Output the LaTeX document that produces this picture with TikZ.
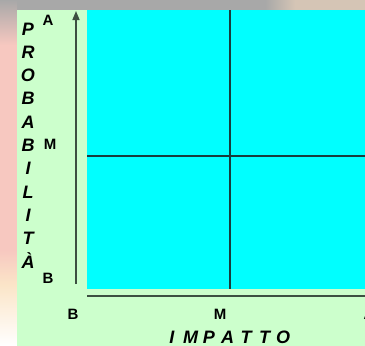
\documentclass[tikz,border=0pt]{standalone}
\usepackage{fontspec}
\setmainfont{Liberation Sans}
\usetikzlibrary{arrows.meta,positioning}
\definecolor{PanelGreen}{RGB}{204,255,204}
\definecolor{GridCyan}{RGB}{0,255,255}
\definecolor{GridLine}{RGB}{25,60,60}
\definecolor{AxisGray}{RGB}{60,80,65}
\definecolor{PhotoGray}{RGB}{168,168,168}
\definecolor{PhotoBeige}{RGB}{213,197,181}
\definecolor{PhotoPink}{RGB}{247,200,192}
\definecolor{PhotoPeach}{RGB}{251,229,200}

\begin{document}
\begin{tikzpicture}[x=1pt, y=-1pt,
	lab/.style={font=\bfseries\fontsize{15}{15}\selectfont},
	vlet/.style={font=\bfseries\itshape\fontsize{18}{18}\selectfont, anchor=base, inner sep=0pt}]
		\useasboundingbox (0,0) rectangle (365,346);
		
		% sfondo (foto)
		\fill[PhotoBeige] (0,0) rectangle (365,10);
		\fill[PhotoGray] (0,0) rectangle (265,10);
		\shade[left color=PhotoGray, right color=PhotoBeige] (265,0) rectangle (295,10);
		\shade[top color=PhotoGray, bottom color=PhotoPink] (0,0) rectangle (17,45);
		\fill[PhotoPink] (0,45) rectangle (17,250);
		\shade[top color=PhotoPink, bottom color=PhotoPeach] (0,250) rectangle (17,285);
		\shade[top color=PhotoPeach, bottom color=white] (0,285) rectangle (17,346);
		
		% pannello verde e matrice
		\fill[PanelGreen] (17,10) rectangle (365,346);
		\fill[GridCyan] (87,10) rectangle (365,289);
		
		% coordinate
		\coordinate (top) at (230,10);
		\coordinate (bot) at (230,289);
		\coordinate (left) at (87,156);
		\coordinate (right) at (365,156);
		\coordinate (yfrom) at (76,284);
		\coordinate (yto) at (76,11);
		\coordinate (xfrom) at (87,296);
		\coordinate (xto) at (365,296);
		
		\draw[GridLine, line width=1.5pt] (top) -- (bot);
		\draw[GridLine, line width=1.5pt] (left) -- (right);
		
		% assi
		\draw[AxisGray, line width=1.5pt, -{Triangle[length=9pt, width=7pt]}] (yfrom) -- (yto);
		\draw[AxisGray, line width=1.5pt] (xfrom) -- (xto);
		
		% PROBABILITÀ
		\foreach \ch [count=\i from 0] in {P,R,O,B,A,B,I,L,I,T,À}
			\node[vlet] (prob\i) at (28, {35+23.3*\i}) {\ch};
		
		% livelli
		\node[lab] (labA) at (48,20) {A};
		\node[lab] (labM) at (50,144) {M};
		\node[lab] (labB) at (48,278) {B};
		\node[lab] (impB) at (73,314) {B};
		\node[lab] (impM) at (220,314) {M};
		\node[lab] (impA) at (369,314) {A};
		
		% IMPATTO
		\foreach \ch [count=\i from 0] in {I,M,P,A,T,T,O}
			\node[vlet] (imp\i) at ({172+18.5*\i}, 343) {\ch};
	\end{tikzpicture}
\end{document}
